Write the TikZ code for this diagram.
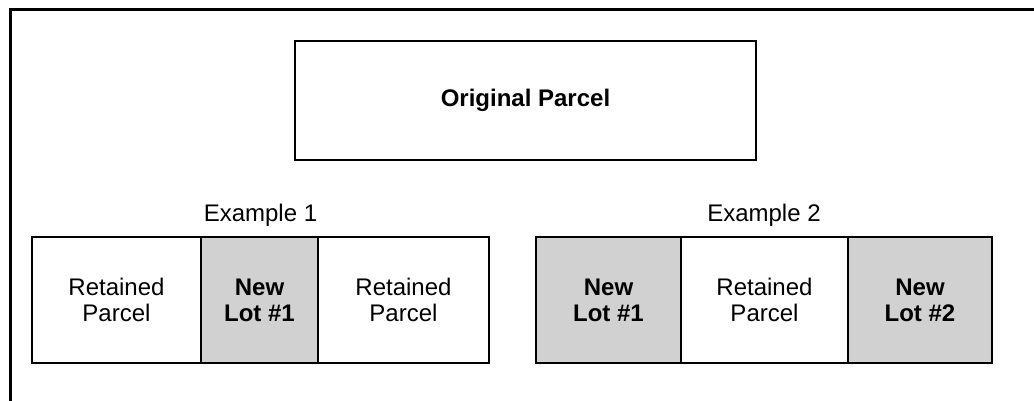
\documentclass[tikz,border=0pt]{standalone}
\usepackage{fontspec}
\setmainfont{Liberation Sans}
\begin{document}
\begin{tikzpicture}[x=1pt,y=1pt,
  cell/.style={draw=black, line width=1.8pt, inner sep=0pt, outer sep=0pt,
    minimum height=126pt, align=center,
    font=\fontsize{24}{26}\selectfont},
  lot/.style={cell, fill=black!18, font=\fontsize{24}{26}\selectfont\bfseries},
  kept/.style={cell, fill=white},
  caption/.style={font=\fontsize{24}{26}\selectfont, inner sep=0pt}]
\useasboundingbox (0,0) rectangle (1034,400);
% frame around the figure (open at right and bottom)
\coordinate (fb) at (10,-5);
\coordinate (ftl) at (10,390);
\coordinate (fr) at (1040,390);
\draw[line width=3pt] (fb) -- (ftl) -- (fr);
% the undivided parcel
\node[draw=black, line width=1.8pt, minimum width=461pt, minimum height=119pt,
  inner sep=0pt, font=\fontsize{24}{26}\selectfont\bfseries]
  (orig) at (525.5,299.5) {Original Parcel};
% example 1: one new lot cut from the middle
\node[caption] (ex1) at (260.5,185) {Example 1};
\node[kept, minimum width=169pt] (a1) at (116.5,100) {Retained\\Parcel};
\node[lot,  minimum width=117pt] (a2) at (259.5,100) {New\\Lot \#1};
\node[kept, minimum width=171pt] (a3) at (403.5,100) {Retained\\Parcel};
% example 2: two new lots at the ends
\node[caption] (ex2) at (764,185) {Example 2};
\node[lot,  minimum width=145pt] (b1) at (608.5,100) {New\\Lot \#1};
\node[kept, minimum width=167pt] (b2) at (764.5,100) {Retained\\Parcel};
\node[lot,  minimum width=144pt] (b3) at (920,100) {New\\Lot \#2};
\end{tikzpicture}
\end{document}
